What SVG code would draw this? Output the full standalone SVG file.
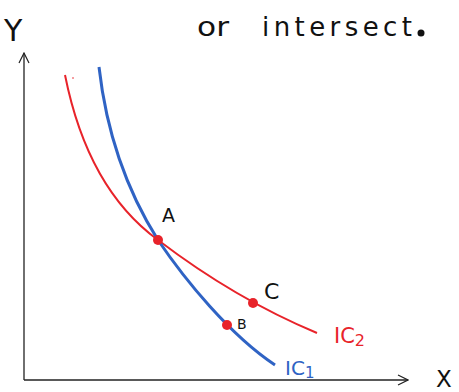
<svg xmlns="http://www.w3.org/2000/svg" width="459" height="392" viewBox="0 0 459 392">
<style>
.axis{stroke:#222;stroke-width:1.3;fill:none}
.hw{font-family:"DejaVu Sans",sans-serif}
.blk{fill:#111}
.red{fill:#e8232a}
.blue{fill:#2f63c4}
.dot{fill:#e8232a}
</style>
<defs>
<marker id="arr" viewBox="0 0 12 12" refX="11" refY="6" markerWidth="12" markerHeight="12" markerUnits="userSpaceOnUse" orient="auto">
<path d="M1,1 L11,6 L1,11" fill="none" stroke="#222" stroke-width="1.2"/>
</marker>
</defs>
<g id="axes">
<path class="axis" d="M24,380 L24,53" marker-end="url(#arr)"/>
<path class="axis" d="M24,380 L408,380" marker-end="url(#arr)"/>
</g>
<g id="connectors">
<path id="ic2" d="M65,75 C80,150 110,205 158,240 C200,272 250,305 317,333" fill="none" stroke="#e8232a" stroke-width="2"/>
<path id="ic1" d="M99,67 C105,120 120,180 158,240 C185,280 230,335 275,365" fill="none" stroke="#2f63c4" stroke-width="3"/>
<circle cx="73" cy="78" r="0.8" fill="#e8232a"/>
</g>
<g id="pointA"><circle class="dot" cx="158" cy="240" r="5"/><text class="hw blk" x="162" y="222" font-size="19">A</text></g>
<g id="pointB"><circle class="dot" cx="227" cy="325" r="5"/><text class="hw blk" x="237" y="329" font-size="14">B</text></g>
<g id="pointC"><circle class="dot" cx="253" cy="303" r="5"/><text class="hw blk" x="264" y="299" font-size="22">C</text></g>
<g id="labels">
<text class="hw blk" x="4" y="41" font-size="30">Y</text>
<text class="hw blk" x="436" y="387" font-size="23">X</text>
<text class="hw blk" x="197" y="36" font-size="26" textLength="32" lengthAdjust="spacingAndGlyphs">or</text>
<text class="hw blk" x="262" y="36" font-size="26" textLength="150" lengthAdjust="spacing">intersect</text>
<circle cx="421" cy="33" r="3.5" fill="#111"/>
<text class="hw red" x="334" y="343" font-size="21">IC<tspan font-size="16" dy="3">2</tspan></text>
<text class="hw blue" x="285" y="375" font-size="20">IC<tspan font-size="15" dy="3">1</tspan></text>
</g>
</svg>
